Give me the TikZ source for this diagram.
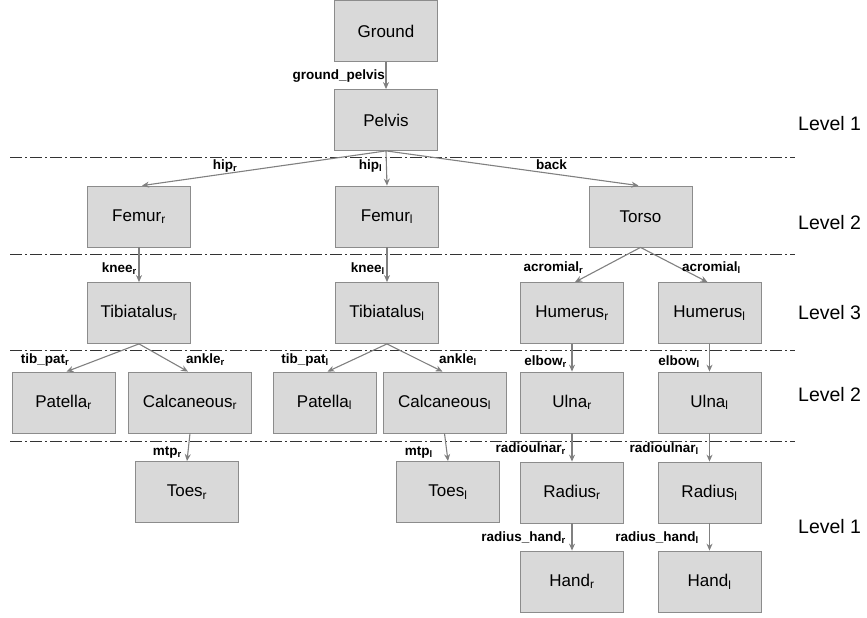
\documentclass[tikz,border=0pt]{standalone}
\usepackage{fontspec}
\setmainfont{Liberation Sans}
\usetikzlibrary{arrows.meta}
\definecolor{boxfill}{RGB}{217,217,217}
\definecolor{boxline}{RGB}{140,140,140}
\definecolor{arrgray}{RGB}{128,128,128}
\newcommand{\subr}[1]{#1\textsubscript{r}}
\newcommand{\subl}[1]{#1\textsubscript{l}}
\begin{document}
\begin{tikzpicture}[x=1pt,y=-1pt,
	box/.style={draw=boxline,fill=boxfill,line width=0.8pt,minimum width=103pt,minimum height=61pt,inner sep=0pt,font=\fontsize{17}{19}\selectfont},
	widebox/.style={box,minimum width=123pt},
	lbl/.style={font=\fontsize{13.5}{15}\selectfont\bfseries,inner sep=0pt},
	lvl/.style={font=\fontsize{19.5}{22}\selectfont,anchor=west,inner sep=0pt},
	arr/.style={draw=arrgray,line width=1.1pt,-{Stealth[length=7pt,width=6pt]}},
	sep/.style={draw=black!80,line width=0.8pt,dash pattern=on 12pt off 3pt on 2pt off 3pt}]
	\useasboundingbox (0,0) rectangle (867,618);
	% separators
	\foreach \y in {157,254,350,441}
		\draw[sep] (10,\y) -- (795,\y);
	% bodies
	\node[box] (ground) at (386,31) {Ground};
	\node[box] (pelvis) at (386,120) {Pelvis};
	\node[box] (femr) at (139,216.5) {\subr{Femur}};
	\node[box] (feml) at (387,216.5) {\subl{Femur}};
	\node[box] (torso) at (640.5,216.5) {Torso};
	\node[box] (tibr) at (139,313) {\subr{Tibiatalus}};
	\node[box] (tibl) at (387,313) {\subl{Tibiatalus}};
	\node[box] (humr) at (572,313) {\subr{Humerus}};
	\node[box] (huml) at (709.5,313) {\subl{Humerus}};
	\node[box] (patr) at (63.5,402.5) {\subr{Patella}};
	\node[widebox] (calr) at (190,402.5) {\subr{Calcaneous}};
	\node[box] (patl) at (324.5,402.5) {\subl{Patella}};
	\node[widebox] (call) at (444.5,402.5) {\subl{Calcaneous}};
	\node[box] (ulnr) at (572,402.5) {\subr{Ulna}};
	\node[box] (ulnl) at (709.5,402.5) {\subl{Ulna}};
	\node[box] (toer) at (187,492) {\subr{Toes}};
	\node[box] (toel) at (448,492) {\subl{Toes}};
	\node[box] (radr) at (572,492.5) {\subr{Radius}};
	\node[box] (radl) at (709.5,492.5) {\subl{Radius}};
	\node[box] (handr) at (572,581.5) {\subr{Hand}};
	\node[box] (handl) at (709.5,581.5) {\subl{Hand}};
	% joints
	\draw[arr] (ground) -- (pelvis);
	\draw[arr] (pelvis.south) -- ([xshift=3pt]femr.north);
	\draw[arr] (pelvis.south) -- (feml.north);
	\draw[arr] (pelvis.south) -- ([xshift=-2pt]torso.north);
	\draw[arr] (femr) -- (tibr);
	\draw[arr] (feml) -- (tibl);
	\draw[arr] (torso.south) -- ([xshift=3pt]humr.north);
	\draw[arr] (torso.south) -- ([xshift=-2pt]huml.north);
	\draw[arr] (tibr.south) -- ([xshift=3pt]patr.north);
	\draw[arr] (tibr.south) -- ([xshift=-2pt]calr.north);
	\draw[arr] (tibl.south) -- ([xshift=3pt]patl.north);
	\draw[arr] (tibl.south) -- ([xshift=-2pt]call.north);
	\draw[arr] (humr) -- (ulnr);
	\draw[arr] (huml) -- (ulnl);
	\draw[arr] (calr.south) -- (toer.north);
	\draw[arr] (call.south) -- (toel.north);
	\draw[arr] (ulnr) -- (radr);
	\draw[arr] (ulnl) -- (radl);
	\draw[arr] (radr) -- (handr);
	\draw[arr] (radl) -- (handl);
	% joint names
	\node[lbl,anchor=east] (gp) at (385,76) {ground\_pelvis};
	\node[lbl] (hipr) at (225,166) {\subr{hip}};
	\node[lbl] (hipl) at (370.5,166) {\subl{hip}};
	\node[lbl] (back) at (551.5,165) {back};
	\node[lbl,anchor=east] (kneer) at (137,269) {\subr{knee}};
	\node[lbl,anchor=east] (kneel) at (385,269) {\subl{knee}};
	\node[lbl] (acromr) at (553.5,268) {\subr{acromial}};
	\node[lbl] (acroml) at (711.5,268) {\subl{acromial}};
	\node[lbl] (tibpatr) at (45,360) {\subr{tib\_pat}};
	\node[lbl] (anklr) at (205.5,360) {\subr{ankle}};
	\node[lbl] (tibpatl) at (305,360) {\subl{tib\_pat}};
	\node[lbl] (ankll) at (458,360) {\subl{ankle}};
	\node[lbl,anchor=east] (elbr) at (567,362) {\subr{elbow}};
	\node[lbl,anchor=east] (elbl) at (700,362) {\subl{elbow}};
	\node[lbl,anchor=east] (mtpr) at (182,452) {\subr{mtp}};
	\node[lbl,anchor=east] (mtpl) at (433,452) {\subl{mtp}};
	\node[lbl,anchor=east] (radulr) at (566,449) {\subr{radioulnar}};
	\node[lbl,anchor=east] (radull) at (699,449) {\subl{radioulnar}};
	\node[lbl,anchor=east] (rhr) at (566,538) {\subr{radius\_hand}};
	\node[lbl,anchor=east] (rhl) at (699,538) {\subl{radius\_hand}};
	% levels
	\node[lvl] (lv1a) at (798,124) {Level 1};
	\node[lvl] (lv2a) at (798,223) {Level 2};
	\node[lvl] (lv3) at (798,313) {Level 3};
	\node[lvl] (lv2b) at (798,395) {Level 2};
	\node[lvl] (lv1b) at (798,527) {Level 1};
\end{tikzpicture}
\end{document}
